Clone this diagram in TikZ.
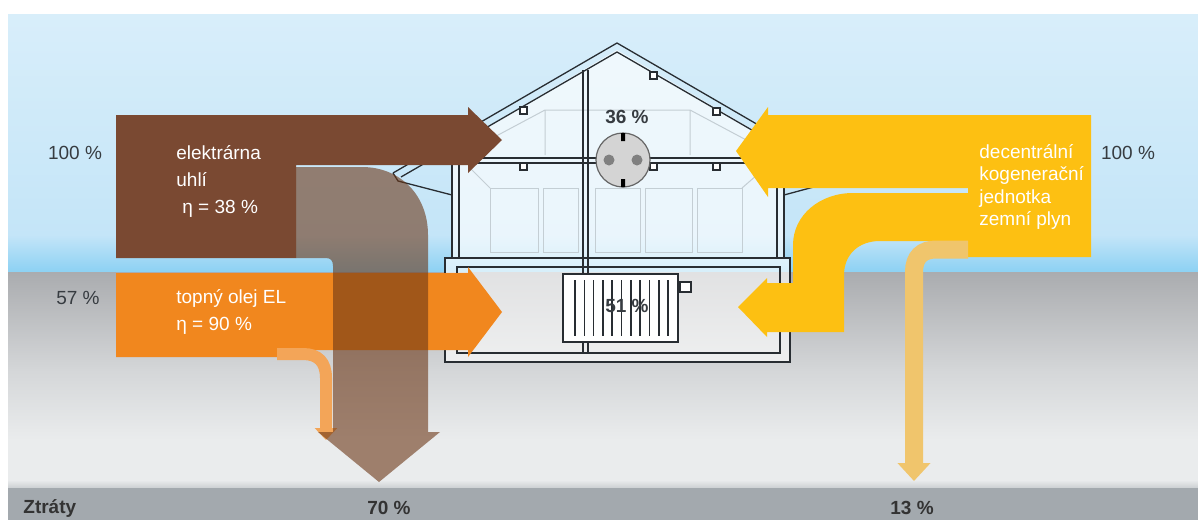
\documentclass[tikz,border=0pt]{standalone}
\usepackage{fontspec}
\setmainfont{Liberation Sans}
\usepackage{tikz}
\usetikzlibrary{arrows.meta}
\definecolor{skytop}{RGB}{216,238,250}
\definecolor{skymid}{RGB}{196,229,248}
\definecolor{skylow}{RGB}{140,209,243}
\definecolor{groundtop}{RGB}{170,172,175}
\definecolor{groundmid}{RGB}{212,214,216}
\definecolor{groundlow}{RGB}{234,236,237}
\definecolor{barfill}{RGB}{163,169,174}
\definecolor{coal}{RGB}{122,73,50}
\definecolor{oil}{RGB}{241,135,30}
\definecolor{chp}{RGB}{253,192,18}
\definecolor{coalloss}{RGB}{108,55,23}
\definecolor{oilloss}{RGB}{243,165,88}
\definecolor{chploss}{RGB}{240,197,108}
\definecolor{wire}{RGB}{40,45,50}
\definecolor{faint}{RGB}{196,206,212}
\definecolor{socket}{RGB}{212,212,212}
\definecolor{numtext}{RGB}{55,60,65}
\tikzset{
  wall/.style={draw=wire, line width=0.65pt},
  faintline/.style={draw=faint, line width=0.5pt},
  lbl/.style={text=white, anchor=west, inner sep=0pt, align=left},
  pct/.style={text=numtext, font=\fontsize{9.5}{11}\selectfont, inner sep=0pt},
  bpct/.style={text=numtext, font=\bfseries\fontsize{9.5}{11}\selectfont, inner sep=0pt}
}

\begin{document}
\begin{tikzpicture}[x=0.5pt,y=-0.5pt]
  \useasboundingbox (0,0) rectangle (1198,520);
  \fill[white] (0,0) rectangle (1198,520);

  % sky, ground and the loss bar
  \shade[top color=skytop, bottom color=skymid] (8,14) rectangle (1198,236);
  \shade[top color=skymid, bottom color=skylow] (8,235) rectangle (1198,272);
  \shade[top color=groundtop, bottom color=groundmid] (8,272) rectangle (1198,370);
  \shade[top color=groundmid, bottom color=groundlow] (8,369) rectangle (1198,440);
  \fill[groundlow] (8,439) rectangle (1198,481);
  \shade[top color=groundlow, bottom color=barfill!60] (8,480) rectangle (1198,489);
  \fill[barfill] (8,488) rectangle (1198,520);

  % house
  \fill[white, opacity=0.65] (452,148) -- (617,50) -- (784,148) -- (784,258)
    -- (790,258) -- (790,362) -- (445,362) -- (445,258) -- (452,258) -- cycle;
  \draw[faintline] (490,188) rectangle (538,252) (543,188) rectangle (578,252)
    (595,188) rectangle (640,252) (645,188) rectangle (692,252)
    (697,188) rectangle (742,252);
  \draw[faintline] (470,150) -- (545,110) -- (690,110) -- (765,150)
    (545,110) -- (545,155) (690,110) -- (690,155)
    (470,168) -- (490,188) (765,168) -- (742,188);
  \draw[wall] (393,173) -- (617,43) -- (841,173);
  \draw[wall] (401,177) -- (617,52) -- (833,177);
  \draw[wall] (393,173) -- (398,181) -- (452,195);
  \draw[wall] (841,173) -- (836,181) -- (784,195);
  \draw[wall] (452,148) -- (452,258) (459,152) -- (459,258);
  \draw[wall] (784,148) -- (784,258) (777,152) -- (777,258);
  \draw[wall] (459,158) -- (777,158) (459,163) -- (777,163);
  \draw[wall] (583,70) -- (583,353) (588,70) -- (588,353);
  \foreach \bx/\by in {520/107, 650/72, 713/108, 520/163, 650/163, 713/163}
    \draw[wall, fill=white] (\bx,\by) rectangle ++(7,7);
  \draw[wall] (445,258) rectangle (790,362);
  \draw[wall] (457,267) rectangle (780,353);

  % socket
  \draw[draw=gray!80!black, line width=0.6pt, fill=socket] (623,160) circle [radius=27];
  \fill[gray] (609,160) circle [radius=5.5] (637,160) circle [radius=5.5];
  \fill[black] (621,133) rectangle (625,141) (621,179) rectangle (625,187);

  % radiator
  \draw[wall, fill=white] (563,274) rectangle (678,342);
  \foreach \i in {0,...,10}
    \draw[wall, line width=0.8pt] ({575+\i*9.3},280) -- ({575+\i*9.3},336);
  \draw[wall, fill=white] (680,282) rectangle (691,292);

  % supply arrows
  \fill[coal] (116,115) -- (468,115) -- (468,107) -- (502,140) -- (468,173)
    -- (468,165) -- (296,165) -- (296,258) -- (116,258) -- cycle;
  \fill[oil] (116,273) -- (468,273) -- (468,267) -- (502,312) -- (468,357)
    -- (468,350) -- (277,350) -- (277,357) -- (116,357) -- cycle;
  \fill[chp] (1091,115) -- (768,115) -- (768,107) -- (736,151) -- (768,197)
    -- (768,188) -- (968,188) -- (968,257) -- (1091,257) -- cycle;
  \fill[chp] (968,193) -- (853,193) .. controls (820,193) and (793,215) .. (793,245)
    -- (793,283) -- (767,283) -- (767,278) -- (738,307) -- (767,337) -- (767,332)
    -- (844,332) -- (844,275) .. controls (844,255) and (858,241) .. (880,241)
    -- (968,241) -- cycle;

  % losses
  \draw[oilloss, line width=6pt, -{Triangle[length=6pt,width=11pt]}]
    (277,354) -- (303,354) .. controls (318,354) and (326,362) .. (326,378) -- (326,440);
  \fill[coalloss, opacity=0.6] (296,167) -- (362,167) .. controls (400,167) and (428,195) .. (428,235)
    -- (428,432) -- (440,432) -- (379,482) -- (318,432) -- (333,432) -- (333,266)
    .. controls (333,261) and (331,258) .. (326,258) -- (296,258) -- cycle;
  \draw[chploss, line width=9pt, -{Triangle[length=9pt,width=16pt]}]
    (968,249.5) -- (936,249.5) .. controls (922,249.5) and (914,257) .. (914,272) -- (914,481);

  % labels
  \node[pct] (pctcoal) at (75,153) {100 \%};
  \node[pct] (pctoil) at (78,298) {57 \%};
  \node[pct] (pctchp) at (1128,153) {100 \%};
  \node[lbl, font=\fontsize{9.5}{13.5}\selectfont] (coaltxt) at (176,181)
    {elektrárna\\uhlí\\\hspace{3pt}η = 38 \%};
  \node[lbl, font=\fontsize{9.5}{13.5}\selectfont] (oiltxt) at (176,312)
    {topný olej EL\\η = 90 \%};
  \node[lbl, font=\fontsize{9.5}{11.3}\selectfont] (chptxt) at (979,187)
    {decentrální\\kogenerační\\jednotka\\zemní plyn};
  \node[bpct] (pctsocket) at (627,117) {36 \%};
  \node[bpct] (pctrad) at (627,306) {51 \%};
  \node[bpct, anchor=west, text=black!80] (losslbl) at (23,508) {Ztráty};
  \node[bpct, text=black!80] (losscoal) at (389,508) {70 \%};
  \node[bpct, text=black!80] (losschp) at (912,508) {13 \%};
\end{tikzpicture}
\end{document}
